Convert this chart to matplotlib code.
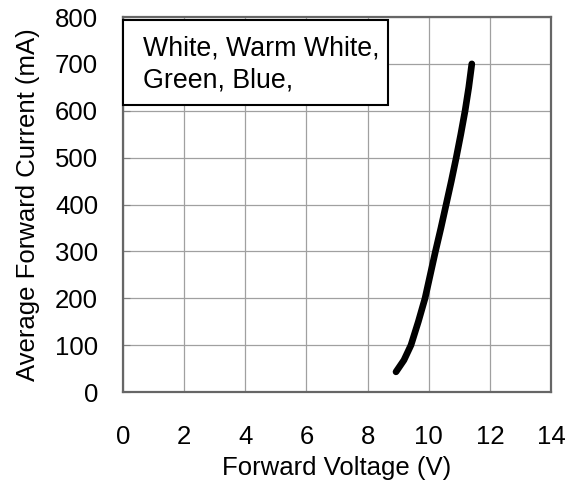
import numpy as np
import matplotlib
matplotlib.use("Agg")
import matplotlib.pyplot as plt
from matplotlib.patches import Rectangle

plt.rcParams['font.family'] = ['Liberation Sans', 'DejaVu Sans']

voltage = [8.93, 9.19, 9.42, 9.66, 9.88, 10.05, 10.22, 10.40, 10.57, 10.74, 10.90, 11.05, 11.19, 11.31, 11.41]
current = [43, 68, 100, 150, 200, 250, 300, 350, 400, 450, 500, 550, 600, 650, 700]

x_ticks = [0, 2, 4, 6, 8, 10, 12, 14]
y_ticks = [0, 100, 200, 300, 400, 500, 600, 700, 800]
legend_text = "White, Warm White,\nGreen, Blue,"

fig = plt.figure(figsize=(5.68, 4.90), dpi=100)
ax = fig.add_axes([123 / 568, 1 - 392 / 490, 428 / 568, 375 / 490])

ax.plot(voltage, current, color='black', lw=4.8, solid_capstyle='round',
        solid_joinstyle='round', zorder=3)

ax.set_xlim(0, 14)
ax.set_ylim(0, 800)
ax.set_xticks(x_ticks)
ax.set_yticks(y_ticks)
ax.grid(True, color='#a0a0a0', lw=0.9)
ax.set_axisbelow(True)

for s in ax.spines.values():
    s.set_color('#666666')
    s.set_linewidth(1.6)

ax.tick_params(axis='y', direction='in', length=5, color='#808080', labelsize=18.5, pad=18)
ax.tick_params(axis='x', length=0, labelsize=18.5, pad=24)

ax.set_xlabel('Forward Voltage (V)', fontsize=18.5, labelpad=5)
ax.set_ylabel('Average Forward Current (mA)', fontsize=18.5, labelpad=11)

# caixa de texto no canto superior esquerdo
box = Rectangle((0, 612), 8.67, 182, facecolor='white', edgecolor='black', lw=1.5, zorder=4, clip_on=False)
ax.add_patch(box)
ax.text(0.65, 698, legend_text, fontsize=19.3, va='center', ha='left', linespacing=1.3, zorder=5)

fig.savefig('out.png', dpi=100)
